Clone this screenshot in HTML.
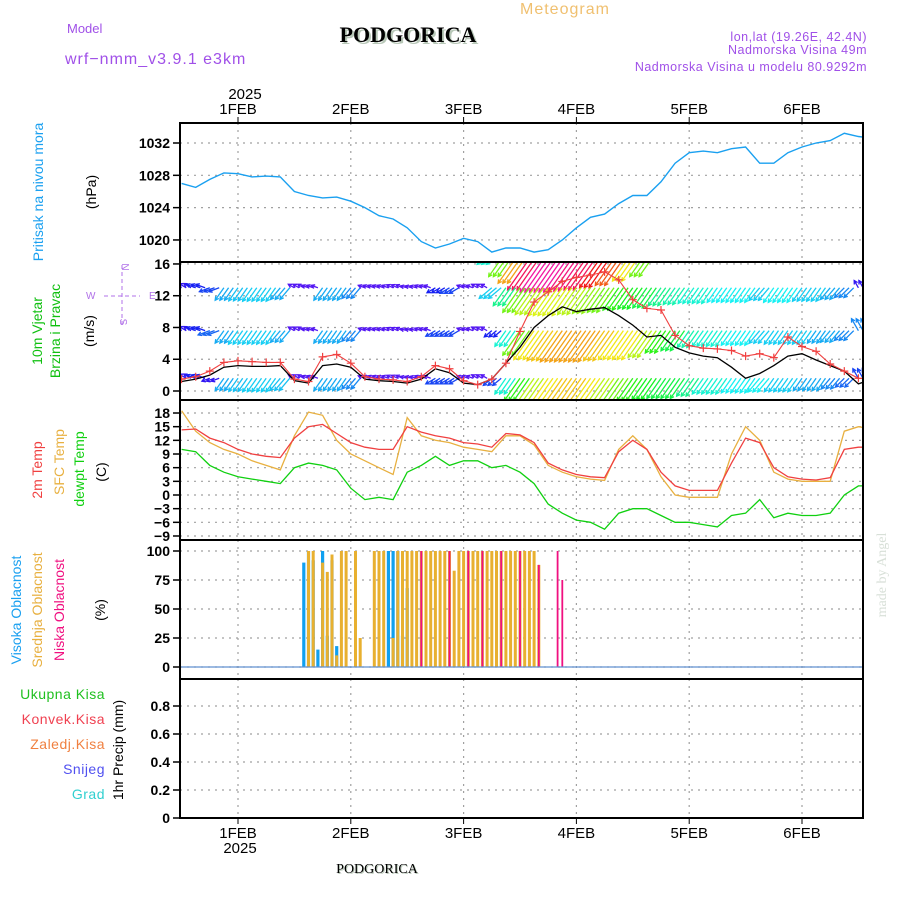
<!DOCTYPE html>
<html><head><meta charset="utf-8"><style>
html,body{margin:0;padding:0;background:#fff;}
svg{display:block;font-family:"Liberation Sans",sans-serif;}
</style></head><body>
<svg id="chart" width="900" height="900" viewBox="0 0 900 900" xmlns="http://www.w3.org/2000/svg">
<defs>
<clipPath id="c1"><rect x="180" y="123" width="683" height="139"/></clipPath>
<clipPath id="c2"><rect x="180" y="262" width="683" height="138"/></clipPath>
<clipPath id="c3"><rect x="180" y="400" width="683" height="140"/></clipPath>
<clipPath id="c4"><rect x="180" y="540" width="683" height="139"/></clipPath>
</defs>
<text x="520" y="14" font-size="16" fill="#f0c070" letter-spacing="1">Meteogram</text>
<text x="67" y="33" font-size="13" fill="#a050e8">Model</text>
<text x="65" y="64" font-size="16" fill="#a050e8" letter-spacing="1">wrf−nmm_v3.9.1 e3km</text>
<text x="410" y="44" font-size="22" font-weight="bold" font-family="Liberation Serif,serif" fill="#b8c8b8" text-anchor="middle">PODGORICA</text>
<text x="408" y="42" font-size="22" font-weight="bold" font-family="Liberation Serif,serif" fill="#000" text-anchor="middle">PODGORICA</text>
<text x="867" y="41" font-size="12.5" fill="#a050e8" text-anchor="end" letter-spacing="0.5">lon,lat (19.26E, 42.4N)</text>
<text x="867" y="54" font-size="12.5" fill="#a050e8" text-anchor="end" letter-spacing="0.5">Nadmorska Visina 49m</text>
<text x="867" y="71" font-size="12.5" fill="#a050e8" text-anchor="end" letter-spacing="0.5">Nadmorska Visina u modelu 80.9292m</text>
<text x="245" y="99" font-size="15" fill="#000" text-anchor="middle">2025</text>
<text x="378" y="874" font-size="14" font-family="Liberation Serif,serif" fill="#b8c8b8" text-anchor="middle">PODGORICA</text>
<text x="377" y="873" font-size="14" font-family="Liberation Serif,serif" fill="#000" text-anchor="middle">PODGORICA</text>
<text transform="translate(886,575) rotate(-90)" font-size="14" font-family="Liberation Serif,serif" fill="#d8e0d8" text-anchor="middle">made by Angel</text>
<text transform="translate(43,192) rotate(-90)" font-size="14" fill="#1aa0f0" text-anchor="middle">Pritisak na nivou mora</text>
<text transform="translate(96,192) rotate(-90)" font-size="14" fill="#000" text-anchor="middle">(hPa)</text>
<text transform="translate(42,331) rotate(-90)" font-size="14" fill="#10c010" text-anchor="middle">10m Vjetar</text>
<text transform="translate(60,331) rotate(-90)" font-size="14" fill="#10c010" text-anchor="middle">Brzina i Pravac</text>
<text transform="translate(94,331) rotate(-90)" font-size="14" fill="#000" text-anchor="middle">(m/s)</text>
<g fill="#b070e8" stroke="#b070e8" font-size="10">
<line x1="104" y1="296" x2="140" y2="296" stroke-dasharray="4,3"/>
<line x1="122" y1="265" x2="122" y2="327" stroke-dasharray="4,3"/>
<text x="122" y="267" text-anchor="middle" stroke="none" transform="rotate(90,122,267)">N</text>
<text x="86" y="299" stroke="none">W</text>
<text x="149" y="299" stroke="none">E</text>
<text x="122" y="324" text-anchor="middle" stroke="none" transform="rotate(90,122,322)">S</text>
</g>
<text transform="translate(42,470) rotate(-90)" font-size="14" fill="#f04040" text-anchor="middle">2m Temp</text>
<text transform="translate(64,462) rotate(-90)" font-size="14" fill="#e8b040" text-anchor="middle">SFC Temp</text>
<text transform="translate(84,469) rotate(-90)" font-size="14" fill="#10d010" text-anchor="middle">dewpt Temp</text>
<text transform="translate(106,472) rotate(-90)" font-size="14" fill="#000" text-anchor="middle">(C)</text>
<text transform="translate(21,610) rotate(-90)" font-size="14" fill="#1aa0f0" text-anchor="middle">Visoka Oblacnost</text>
<text transform="translate(42,610) rotate(-90)" font-size="14" fill="#e8b040" text-anchor="middle">Srednja Oblacnost</text>
<text transform="translate(64,610) rotate(-90)" font-size="14" fill="#f01080" text-anchor="middle">Niska Oblacnost</text>
<text transform="translate(105,610) rotate(-90)" font-size="14" fill="#000" text-anchor="middle">(%)</text>
<text x="105" y="699" font-size="14" fill="#20c020" text-anchor="end" letter-spacing="0.5">Ukupna Kisa</text>
<text x="105" y="724" font-size="14" fill="#f04050" text-anchor="end" letter-spacing="0.5">Konvek.Kisa</text>
<text x="105" y="749" font-size="14" fill="#f08040" text-anchor="end" letter-spacing="0.5">Zaledj.Kisa</text>
<text x="105" y="774" font-size="14" fill="#5050f0" text-anchor="end" letter-spacing="0.5">Snijeg</text>
<text x="105" y="799" font-size="14" fill="#30d0d0" text-anchor="end" letter-spacing="0.5">Grad</text>
<text transform="translate(123,750) rotate(-90)" font-size="14" fill="#000" text-anchor="middle">1hr Precip (mm)</text>
<text x="240" y="853" font-size="15" fill="#000" text-anchor="middle">2025</text>
</svg>
<script>
const dayLabels = ["1FEB","2FEB","3FEB","4FEB","5FEB","6FEB"];
const pressureTicks = [1020,1024,1028,1032];
const windTicks = [0,4,8,12,16];
const tempTicks = [-9,-6,-3,0,3,6,9,12,15,18];
const cloudTicks = [0,25,50,75,100];
const precipTicks = ["0","0.2","0.4","0.6","0.8"];
const pressure = [1027.0,1026.5,1027.5,1028.3,1028.2,1027.8,1027.9,1027.8,1026.0,1025.5,1025.2,1025.3,1024.8,1024.0,1023.0,1022.6,1021.5,1019.8,1019.0,1019.5,1020.2,1019.8,1018.5,1019.0,1019.0,1018.5,1018.8,1020.0,1021.5,1022.8,1023.2,1024.5,1025.5,1025.5,1027.2,1029.5,1030.8,1031.0,1030.8,1031.3,1031.5,1029.5,1029.5,1030.8,1031.5,1032.0,1032.3,1033.2,1032.8,1032.6];
const windSpeed = [1.5,1.8,2.5,3.6,3.8,3.7,3.6,3.6,1.5,1.2,4.3,4.6,3.5,1.8,1.5,1.4,1.2,1.8,3.2,2.8,1.3,0.8,1.5,3.5,7.5,11.2,12.5,13.8,14.3,14.6,15.0,14.0,11.5,10.4,10.2,7.0,5.7,5.4,5.3,5.1,4.4,4.7,4.2,6.8,5.6,5.0,3.4,2.5,1.6,1.5];
const windModel = [1.2,1.5,2.0,3.0,3.2,3.1,3.1,3.2,1.3,1.0,3.2,3.4,3.0,1.5,1.3,1.2,1.0,1.5,2.8,2.3,1.0,0.8,1.5,3.5,5.5,8.0,9.5,10.6,10.0,10.3,10.5,9.5,8.3,6.8,7.0,5.5,4.8,4.4,4.2,3.0,1.6,2.2,3.2,4.4,4.7,3.9,3.2,2.5,0.9,1.5];
const rowLevels = [17.5,13,7.6,1.6];
const rowSpeedTop2 = [2,2,2,2,2,2,2,2,2,2,2,2,2,2,2,2,2,2,2,2,2,2,6,10,13,16,17,17,16.5,16,15,14,12,10,2,2,2,2,2,2,2,2,2,2,2,2,2,2,2,2];
const rowSpeedTop = [2,2.5,3,4.5,4.8,5,5,4.5,1.5,1.5,4.5,4.5,4,1.5,1.5,1.5,1.5,1.5,2.5,3,1.5,1.5,5,7,10,11,11.5,11.5,11,10.5,10,9,8.5,8,7,6.5,6,6,5.5,5.5,5.5,5,5.5,5.5,5,5,4.5,4,2,2];
const rowSpeedMid = [2,2.5,3.5,4.5,5,5,5,4.5,1.5,1.5,4.5,4.5,4,1.5,1.5,1.5,1.5,1.5,3,3,1.5,1.5,2.5,6,10,12,12.5,13,13,13,12.5,12,12,11,9,8,6.5,6,6,5.5,5.5,5,5,5,5,4.5,4.5,4,4,3];
const rowSpeedLow = [2,2.5,2,4.5,4.8,5,5,4.8,1.5,1.5,4.5,4.5,4,1.5,1.5,1.5,1.5,1.5,3,3,1.5,1.5,3,6,9,11,12,12.5,12.5,12,11,10,9,8.5,8,8,7,6,6,5.5,5.5,5.5,5,5,4.5,4.5,4,3.5,3,3];
const rowDirection = [300,290,250,215,215,215,215,220,300,290,215,215,220,290,290,295,285,290,240,240,290,300,230,215,215,215,215,215,215,215,215,215,215,215,215,215,215,215,215,215,215,220,215,215,215,215,220,225,330,330];
const temp2m = [14.3,14.5,12.5,11.5,10,9,8.5,8.2,12.5,15.0,15.5,13.5,11.5,10.5,10,10,15,13.8,13,12.5,11.5,11.2,10.5,13.5,13.2,11.5,7,5.5,4.5,4.0,3.8,9.5,12,10,5,2,1,1,1,7,12.5,11.5,6,4,3.5,3.3,3.8,10,10.5,10.5];
const tempSfc = [18.5,14,11.5,10,9,7.5,6.5,5.5,13,18.2,17.5,12,9,7.5,6,4.5,17,13,12,11.5,10.5,10,9.5,13,13,11,6.5,5,4,3.5,3.2,10,13,10,4,0,-0.5,-0.5,-0.5,9,15,12,5,3.5,3,3,3,14,15,14.5];
const dewpoint = [10,9.5,6.5,5,4,3.5,3,2.5,6,7,6.5,5.5,1.5,-1,-0.5,-1,5,6.5,8.5,6.5,7.5,7.5,6,6.5,5,2.5,-2,-4,-5.5,-6,-7.5,-4,-3,-3,-4.5,-6,-6,-6.5,-7,-4.5,-4,-1,-5,-4,-4.5,-4.5,-4,0,2,2];
const cloudStartHour = 26;
const highCloud = [90,100,92,15,100,27,92,18,0,0,0,0,0,0,0,0,0,0,100,100,100,27,68];
const midCloud = [0,100,100,0,90,82,97,10,100,100,0,100,25,0,0,100,100,100,0,25,100,100,100,100,100,100,100,100,100,100,100,100,83,100,100,100,100,100,100,100,100,100,100,100,100,100,100,100,100,100,88];
const lowCloud = [0,0,0,0,0,0,0,0,0,0,0,0,0,0,0,0,0,0,0,0,0,0,0,0,0,100,0,0,0,0,0,100,0,0,0,100,0,0,100,0,0,0,100,0,0,0,100,0,0,0,88,0,0,0,100,75];

const X = t => 238 + t*112.8;
const T3 = i => -0.5 + i/8;
const TH = h => -0.5 + h/24;
const yP = v => 143 + (1032 - v)*8.08;
const yW = v => 391 - v*7.94;
const yT = v => 495 - v*4.555;
const yC = v => 667 - v*1.16;
const yR = v => 818 - v*140;

const svg = document.getElementById('chart');
const NS = 'http://www.w3.org/2000/svg';
function mk(tag, attrs, parent){
  const e = document.createElementNS(NS, tag);
  for (const k in attrs) e.setAttribute(k, attrs[k]);
  (parent||svg).appendChild(e);
  return e;
}
const panels = [[123,262],[262,400],[400,540],[540,679],[679,818]];

const grid = mk('g', {stroke:'#a0a0a0','stroke-width':1.2,'stroke-dasharray':'2,5'});


panels.forEach(p => {
  dayLabels.forEach((d,i) => {
    const gl = mk('line', {x1:X(i), x2:X(i), y1:p[0], y2:p[1]}, grid);
    
    
  });
});
function hgrid(ticks, ys, lab, fmtVal){
  ticks.forEach(v => {
    const y = ys(parseFloat(v));
    const gl = mk('line', {x1:180, x2:863, y1:y, y2:y}, grid);
    
    
    const tk = mk('line', {x1:173, x2:180, y1:y, y2:y, stroke:'#000','stroke-width':1.5});
    
    
    const tx = mk('text', {x:170, y:y+5, 'font-size':14, 'font-weight':'bold', 'text-anchor':'end', fill:'#000'});
    
    
    tx.textContent = fmtVal(v);
  });
}
hgrid(pressureTicks, yP, 'pressure', v=>String(v));
hgrid(windTicks, yW, 'wind', v=>String(v));
hgrid(tempTicks, yT, 'temp', v=>String(v).replace('-','−'));
hgrid(cloudTicks, yC, 'cloud', v=>String(v));
hgrid(precipTicks, yR, 'precip', v=>v);

dayLabels.forEach((d,i) => {
  const t1 = mk('text', {x:X(i), y:114, 'font-size':15, 'text-anchor':'middle', fill:'#000'});
  
  
  t1.textContent = d;
  const t2 = mk('text', {x:X(i), y:838, 'font-size':15, 'text-anchor':'middle', fill:'#000'});
  
  
  t2.textContent = d;
  const k1 = mk('line', {x1:X(i), x2:X(i), y1:117, y2:123, stroke:'#000'});
  
  
  const k2 = mk('line', {x1:X(i), x2:X(i), y1:818, y2:824, stroke:'#000'});
  
  
});

function line(arr, ys, color, clip, name, w){
  const pts = arr.map((v,i) => X(T3(i)).toFixed(1)+','+ys(v).toFixed(1)).join(' ');
  const pl = mk('polyline', {points:pts, fill:'none', stroke:color, 'stroke-width':w||1.3, 'clip-path':'url(#'+clip+')'});
  
  
  return pl;
}
line(pressure, yP, '#1aa0f0', 'c1', 'pressure-line', 1.4);

const hue = s => ((285 - s*19) % 360 + 360) % 360;
const rows = [rowSpeedTop2, rowSpeedTop, rowSpeedMid, rowSpeedLow];
const wg = mk('g', {'clip-path':'url(#c2)', 'stroke-width':1.3, fill:'none'});


rows.forEach((speeds, r) => {
  const base = yW(rowLevels[r]);
  speeds.forEach((s,i) => {
    const b = rowDirection[i]*Math.PI/180;
    const L = 2.7*s + 3;
    const dx = L*Math.sin(b), dy = -L*Math.cos(b);
    const col = 'hsl('+hue(s)+',90%,52%)';
    for (let k=0;k<3;k++){
      const x0 = X(T3(i)) + k*4.7;
      const a = mk('path', {d:'M'+x0+','+base+' l'+dx.toFixed(1)+','+dy.toFixed(1), stroke:col}, wg);
      
      
      const hx = x0+dx, hy = base+dy, ang = Math.atan2(dy,dx);
      const h1 = [hx-4*Math.cos(ang-0.5), hy-4*Math.sin(ang-0.5)];
      const h2 = [hx-4*Math.cos(ang+0.5), hy-4*Math.sin(ang+0.5)];
      const hd = mk('path', {d:'M'+h1[0].toFixed(1)+','+h1[1].toFixed(1)+' L'+hx.toFixed(1)+','+hy.toFixed(1)+' L'+h2[0].toFixed(1)+','+h2[1].toFixed(1), stroke:col}, wg);
      
      
    }
  });
});
line(windModel, yW, '#000', 'c2', 'wind-speed-black-line', 1.3);
line(windSpeed, yW, '#f04040', 'c2', 'wind-speed-red-line', 1.1);
windSpeed.forEach((v,i) => {
  const x = X(T3(i)), y = yW(v);
  const m = mk('path', {d:'M'+(x-4)+','+y+' h8 M'+x+','+(y-4)+' v8', stroke:'#f04040','stroke-width':1.2, 'clip-path':'url(#c2)'});
  
  
});

line(dewpoint, yT, '#10d010', 'c3', 'dewpoint-line', 1.3);
line(tempSfc, yT, '#e8b040', 'c3', 'sfc-temp-line', 1.3);
line(temp2m, yT, '#f04040', 'c3', 'temp-2m-line', 1.3);

function bars(arr, color, name, w){
  arr.forEach((v,j) => {
    if (v <= 0) return;
    const x = X(TH(cloudStartHour + j));
    const r = mk('rect', {x:(x - w/2).toFixed(1), y:yC(v).toFixed(1), width:w, height:(yC(0)-yC(v)).toFixed(1), fill:color, 'clip-path':'url(#c4)'});
    
    
  });
}
bars(highCloud, '#10a0f0', 'high-cloud-bar', 3.2);
bars(midCloud, '#e8b030', 'mid-cloud-bar', 3);
bars(lowCloud, '#f01080', 'low-cloud-bar', 1.8);
const cb = mk('line', {x1:180, x2:863, y1:667, y2:667, stroke:'#6090d0', 'stroke-width':1.2});



panels.forEach((p,i) => {
  const fr = mk('rect', {x:180, y:p[0], width:683, height:p[1]-p[0], fill:'none', stroke:'#000', 'stroke-width':2});
  
  
});
</script>
</body></html>
